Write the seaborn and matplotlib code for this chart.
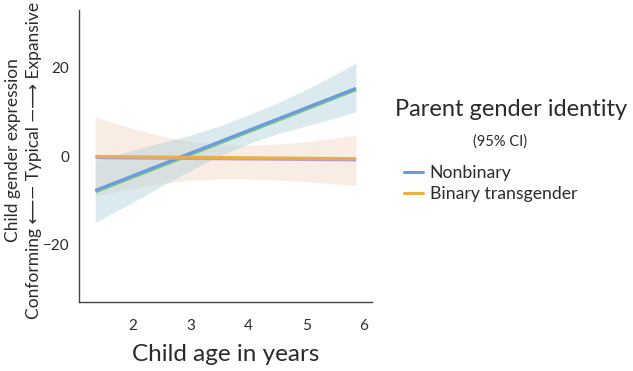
import numpy as np
import pandas as pd
import matplotlib
matplotlib.use("Agg")
import matplotlib.pyplot as plt
import matplotlib.patheffects as pe
import seaborn as sns

# ---- data ----
groups = ["Nonbinary", "Binary transgender"]
line_age = [1.35, 5.86]
nonbinary_line = [-7.8, 15.3]
binary_line = [-0.1, -0.6]

ci_age = [1.35, 2.0, 2.5, 3.0, 3.5, 4.0, 4.5, 5.0, 5.5, 5.86]
nonbinary_lower = [-15.0, -10.5, -6.8, -3.3, 0.0, 2.8, 5.0, 6.8, 8.6, 10.0]
nonbinary_upper = [-1.0, 1.3, 3.0, 4.7, 6.8, 9.3, 12.0, 15.0, 18.4, 21.0]
binary_lower = [-9.0, -7.3, -6.2, -5.5, -5.2, -5.2, -5.4, -5.8, -6.3, -6.7]
binary_upper = [8.8, 6.2, 4.5, 3.3, 2.7, 2.5, 2.7, 3.2, 4.0, 4.7]

x_ticks = [2, 3, 4, 5, 6]
y_ticks = [-20, 0, 20]

# ---- styling ----
sns.set_theme(style="white")
FONT = ["Lato", "DejaVu Sans"]
plt.rcParams["font.family"] = FONT
TXT = "#2b2b2b"

line_colors = {"Nonbinary": "#6b9be0", "Binary transgender": "#e9ae45"}
shadow_colors = {"Nonbinary": "#7cc57a", "Binary transgender": "#b59dd3"}
band_colors = {"Nonbinary": ("#a9cfd9", 0.42), "Binary transgender": ("#e9b795", 0.25)}

df = pd.DataFrame({
    "age": line_age * 2,
    "expression": nonbinary_line + binary_line,
    "identity": [groups[0]] * 2 + [groups[1]] * 2,
})

fig = plt.figure(figsize=(6.33, 3.71), dpi=100)
ax = fig.add_axes([0.1248, 0.186, 0.463, 0.787])

# confidence bands
ax.fill_between(ci_age, binary_lower, binary_upper,
                color=band_colors["Binary transgender"][0],
                alpha=band_colors["Binary transgender"][1], linewidth=0)
ax.fill_between(ci_age, nonbinary_lower, nonbinary_upper,
                color=band_colors["Nonbinary"][0],
                alpha=band_colors["Nonbinary"][1], linewidth=0)

sns.lineplot(data=df, x="age", y="expression", hue="identity",
             hue_order=groups, palette=line_colors, linewidth=2.2,
             ax=ax, legend=True)

for ln, g in zip(ax.get_lines()[:2], groups):
    ln.set_path_effects([
        pe.SimpleLineShadow(offset=(0.3, -0.9), shadow_color=shadow_colors[g], alpha=1.0),
        pe.Normal(),
    ])
    ln.set_solid_capstyle("butt")

ax.set_xlim(1.07, 6.14)
ax.set_ylim(-33, 33)
ax.set_xticks(x_ticks)
ax.set_yticks(y_ticks)
ax.tick_params(axis="both", which="major", length=4, width=1, color="#444444",
               labelsize=11, labelcolor=TXT, direction="out", pad=3)
ax.tick_params(axis="x", pad=8)
for s in ["top", "right"]:
    ax.spines[s].set_visible(False)
for s in ["left", "bottom"]:
    ax.spines[s].set_color("#444444")
    ax.spines[s].set_linewidth(1.0)

ax.set_xlabel("Child age in years", fontsize=17.5, color=TXT, labelpad=8)
ax.set_ylabel("")

# y-axis titles (two rotated lines)
fig.text(0.021, 1 - 150 / 371, "Child gender expression", rotation=90,
         ha="center", va="center", fontsize=12.5, color=TXT)
fig.text(0.054, 1 - 160 / 371, "Conforming \u27f5\u2014 Typical \u2014\u27f6 Expansive",
         rotation=90, ha="center", va="center", fontsize=12.5, color=TXT,
         family=FONT)

# legend
handles, labels = ax.get_legend_handles_labels()
leg = ax.legend(handles, labels, loc="upper left", bbox_to_anchor=(1.109, 0.47),
                frameon=False, fontsize=12.7, handlelength=1.1, handletextpad=0.35,
                labelspacing=0.3, borderaxespad=0, borderpad=0)
for t in leg.get_texts():
    t.set_color(TXT)
fig.text(511 / 633, 1 - 110 / 371, "Parent gender identity", ha="center",
         va="center", fontsize=17, color=TXT)
fig.text(500 / 633, 1 - 142 / 371, "(95% CI)", ha="center", va="center",
         fontsize=10.5, color=TXT)

fig.savefig("out.png", dpi=100)
